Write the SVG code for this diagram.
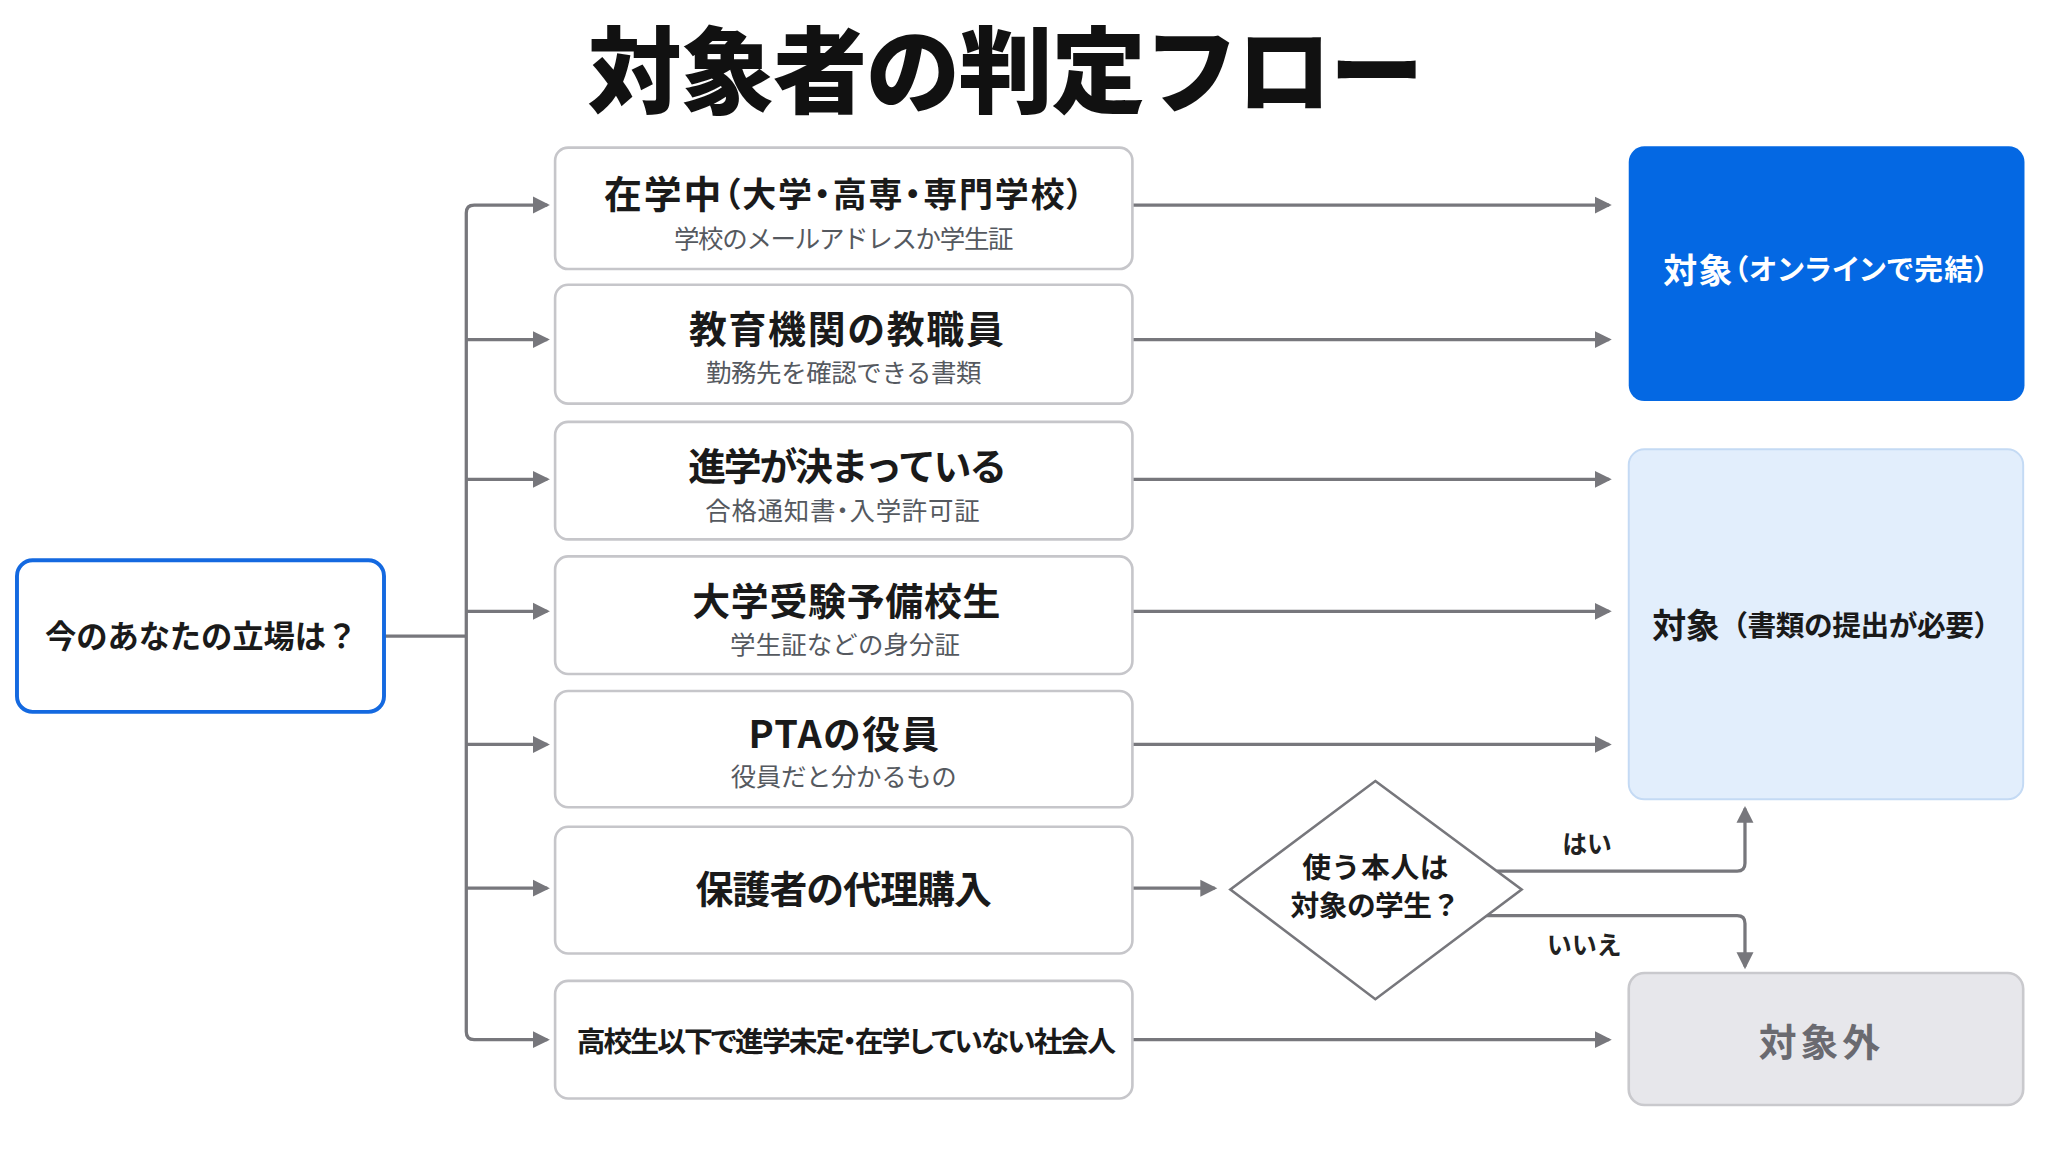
<svg xmlns="http://www.w3.org/2000/svg" width="2048" height="1152" viewBox="0 0 2048 1152">
<defs>
<style>
text{font-family:"Noto Sans CJK JP","Noto Sans",sans-serif;dominant-baseline:central;text-anchor:middle}
.h{font-size:72px;font-weight:900;fill:#111}
.t{font-size:29px;font-weight:700;fill:#1a1a1a}
.s{font-size:19.5px;font-weight:400;fill:#55595f}
.q{font-size:24px;font-weight:700;fill:#1a1a1a}
.d{font-size:22px;font-weight:700;fill:#1a1a1a}
.l{font-size:19px;font-weight:700;fill:#222}
.box{fill:#fff;stroke:#c6c6ca;stroke-width:2}
.c{fill:none;stroke:#77777c;stroke-width:2.5}
</style>
<marker id="ah" markerUnits="userSpaceOnUse" markerWidth="14" markerHeight="14" refX="11" refY="7" orient="auto">
<path d="M0,0.5 L13,7 L0,13.5 Z" fill="#77777c"/>
</marker>
</defs>
<rect width="2048" height="1152" fill="#fff"/>
<g transform="scale(1.306122)">
<g id="title"><text class="h" x="770" y="50" textLength="640">対象者の判定フロー</text></g>

<g id="connectors">
<path class="c" d="M294,487 H357"/>
<path class="c" marker-end="url(#ah)" d="M357,487 V163 Q357,157 363,157 H419"/>
<path class="c" marker-end="url(#ah)" d="M357,487 V790 Q357,796 363,796 H419"/>
<path class="c" marker-end="url(#ah)" d="M357,260 H419"/>
<path class="c" marker-end="url(#ah)" d="M357,367 H419"/>
<path class="c" marker-end="url(#ah)" d="M357,468 H419"/>
<path class="c" marker-end="url(#ah)" d="M357,570 H419"/>
<path class="c" marker-end="url(#ah)" d="M357,680 H419"/>
<path class="c" marker-end="url(#ah)" d="M867,157 H1232"/>
<path class="c" marker-end="url(#ah)" d="M867,260 H1232"/>
<path class="c" marker-end="url(#ah)" d="M867,367 H1232"/>
<path class="c" marker-end="url(#ah)" d="M867,468 H1232"/>
<path class="c" marker-end="url(#ah)" d="M867,570 H1232"/>
<path class="c" marker-end="url(#ah)" d="M867,680 H930"/>
<path class="c" marker-end="url(#ah)" d="M867,796 H1232"/>
<path class="c" marker-end="url(#ah)" d="M1146,667 H1330 Q1336,667 1336,661 V619"/>
<path class="c" marker-end="url(#ah)" d="M1138,701 H1330 Q1336,701 1336,707 V740"/>
<text class="l" x="1215" y="645">はい</text>
<text class="l" x="1213" y="722">いいえ</text>
</g>

<g id="start">
<rect x="13" y="429" width="281" height="116" rx="12" fill="#fff" stroke="#1469e0" stroke-width="3"/>
<text class="q" x="154" y="486" textLength="239">今のあなたの立場は？</text>
</g>

<g id="n1">
<rect class="box" x="425" y="113" width="442" height="93" rx="10"/>
<text class="t" x="646" y="147" textLength="367" style="font-feature-settings:'palt'">在学中<tspan font-size="26">（大学・高専・専門学校）</tspan></text>
<text class="s" x="646" y="181" textLength="260">学校のメールアドレスか学生証</text>
</g>
<g id="n2">
<rect class="box" x="425" y="218" width="442" height="91" rx="10"/>
<text class="t" x="648" y="250" textLength="241">教育機関の教職員</text>
<text class="s" x="646" y="284" textLength="211">勤務先を確認できる書類</text>
</g>
<g id="n3">
<rect class="box" x="425" y="323" width="442" height="90" rx="10"/>
<text class="t" x="649" y="355" textLength="244">進学が決まっている</text>
<text class="s" x="645" y="389" textLength="210" style="font-feature-settings:'palt'">合格通知書・入学許可証</text>
</g>
<g id="n4">
<rect class="box" x="425" y="426" width="442" height="90" rx="10"/>
<text class="t" x="648" y="458" textLength="236">大学受験予備校生</text>
<text class="s" x="647" y="492" textLength="176">学生証などの身分証</text>
</g>
<g id="n5">
<rect class="box" x="425" y="529" width="442" height="89" rx="10"/>
<text class="t" x="646" y="560" textLength="146">PTAの役員</text>
<text class="s" x="646" y="593" textLength="173">役員だと分かるもの</text>
</g>
<g id="n6">
<rect class="box" x="425" y="633" width="442" height="97" rx="10"/>
<text class="t" x="646" y="679" textLength="227">保護者の代理購入</text>
</g>
<g id="n7">
<rect class="box" x="425" y="751" width="442" height="90" rx="10"/>
<text class="t" x="648" y="796" textLength="413" style="font-size:22px;font-feature-settings:'palt'">高校生以下で進学未定・在学していない社会人</text>
</g>

<g id="decision">
<polygon points="1053,598 1165,681 1053,765 942,681" fill="#fff" stroke="#77777c" stroke-width="2"/>
<text class="d" x="1053" y="663" textLength="112">使う本人は</text>
<text class="d" x="1053" y="692" textLength="130">対象の学生？</text>
</g>

<g id="r1">
<rect x="1247" y="112" width="303" height="195" rx="12" fill="#0468e3"/>
<text x="1398" y="205" font-size="22" font-weight="700" fill="#fff" textLength="249" style="font-feature-settings:'palt'"><tspan font-size="26">対象</tspan>（オンラインで完結）</text>
</g>
<g id="r2">
<rect x="1247" y="344" width="302" height="268" rx="12" fill="#e2eefc" stroke="#c4daf4" stroke-width="1.5"/>
<text x="1399" y="477" font-size="22" font-weight="700" fill="#1a1a1a" textLength="268"><tspan font-size="26">対象</tspan>（書類の提出が必要）</text>
</g>
<g id="r3">
<rect x="1247" y="745" width="302" height="101" rx="12" fill="#e7e7eb" stroke="#c9c9cd" stroke-width="2"/>
<text x="1393" y="796" font-size="29" font-weight="700" fill="#6a6a70" textLength="93">対象外</text>
</g>
</g>
</svg>
